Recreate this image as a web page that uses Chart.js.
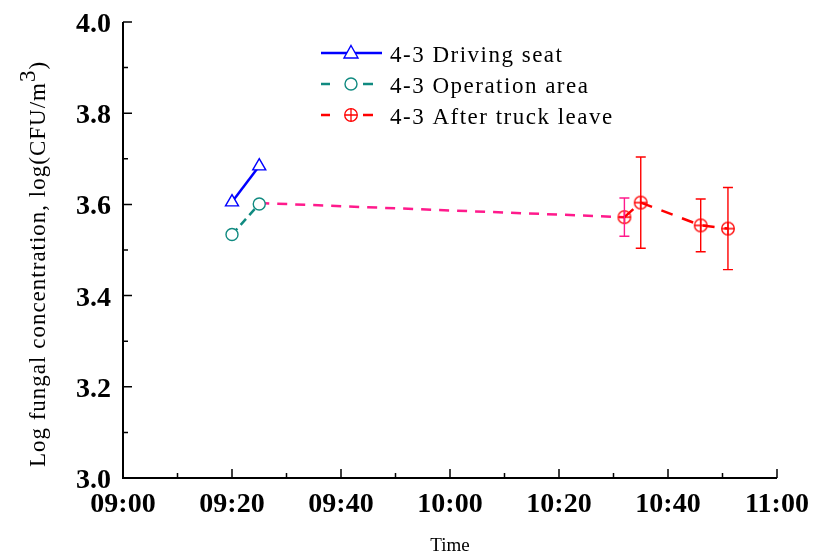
<!DOCTYPE html>
<html>
<head>
<meta charset="utf-8">
<script src="https://cdn.jsdelivr.net/npm/chart.js@4.4.0/dist/chart.umd.min.js"></script>
<style>
  html, body { margin: 0; padding: 0; background: #fff; }
  #wrap { width: 814px; height: 557px; }
</style>
</head>
<body>
<div id="wrap"><canvas id="fungalChart" width="814" height="557"></canvas></div>
<script>
// minutes after 09:00
const drivingTimes = [20, 25];
const drivingValues = [3.605, 3.684];
const operationTimes = [20, 25];
const operationValues = [3.534, 3.601];
const linkTimes = [25, 92];
const linkValues = [3.603, 3.572];
const afterTimes = [92, 95, 106, 111];
const afterValues = [3.572, 3.604, 3.554, 3.547];
const afterErrors = [0.042, 0.1, 0.058, 0.09];
const xTickLabels = ['09:00', '09:20', '09:40', '10:00', '10:20', '10:40', '11:00'];
const yTickLabels = ['3.0', '3.2', '3.4', '3.6', '3.8', '4.0'];
const seriesNames = ['4-3 Driving seat', '4-3 Operation area', '4-3 After truck leave'];

const SERIF = '"Liberation Serif", "Times New Roman", serif';
const BLUE = '#0000ff';
const TEAL = '#108a80';
const RED = '#ff0000';
const PINK = '#ff1a8c';

function toPoints(xs, ys) {
    return xs.map((x, i) => ({ x: x, y: ys[i] }));
}

// circle with a cross inside, used as marker
function crossCircle(color) {
    const c = document.createElement('canvas');
    c.width = 16; c.height = 16;
    const g = c.getContext('2d');
    g.strokeStyle = color;
    g.lineWidth = 1.3;
    g.beginPath();
    g.arc(8, 8, 6.3, 0, Math.PI * 2);
    g.moveTo(1.5, 8); g.lineTo(14.5, 8);
    g.moveTo(8, 1.5); g.lineTo(8, 14.5);
    g.stroke();
    return c;
}
const redMarker = crossCircle(RED);

// axes, ticks, error bars, legend, titles
const decorations = {
    id: 'decorations',
    afterDatasetsDraw(chart) {
        const ctx = chart.ctx;
        const xs = chart.scales.x, ys = chart.scales.y;
        ctx.save();
        ctx.lineWidth = 1.4;
        afterTimes.forEach((t, i) => {
            const px = xs.getPixelForValue(t);
            const top = ys.getPixelForValue(afterValues[i] + afterErrors[i]);
            const bot = ys.getPixelForValue(afterValues[i] - afterErrors[i]);
            ctx.strokeStyle = i === 0 ? PINK : RED;
            ctx.beginPath();
            ctx.moveTo(px, top); ctx.lineTo(px, bot);
            ctx.moveTo(px - 5, top); ctx.lineTo(px + 5, top);
            ctx.moveTo(px - 5, bot); ctx.lineTo(px + 5, bot);
            ctx.stroke();
        });
        ctx.restore();
    },
    afterDraw(chart) {
        const ctx = chart.ctx;
        const area = chart.chartArea;
        const xs = chart.scales.x, ys = chart.scales.y;
        ctx.save();
        ctx.strokeStyle = '#000';
        ctx.lineWidth = 2;
        ctx.beginPath();
        ctx.moveTo(area.left, area.top);
        ctx.lineTo(area.left, area.bottom);
        ctx.lineTo(area.right, area.bottom);
        ctx.stroke();

        ctx.lineWidth = 1.5;
        ctx.beginPath();
        for (let m = 0; m <= 120; m += 10) {
            const px = xs.getPixelForValue(m);
            const len = m % 20 === 0 ? 9 : 5;
            ctx.moveTo(px, area.bottom); ctx.lineTo(px, area.bottom - len);
        }
        for (let k = 0; k <= 10; k++) {
            const py = ys.getPixelForValue(3 + k / 10);
            const len = k % 2 === 0 ? 9 : 5;
            ctx.moveTo(area.left, py); ctx.lineTo(area.left + len, py);
        }
        ctx.stroke();

        // tick labels
        ctx.fillStyle = '#000';
        ctx.font = 'bold 28px ' + SERIF;
        ctx.textBaseline = 'alphabetic';
        ctx.textAlign = 'center';
        xTickLabels.forEach((lab, i) => {
            ctx.fillText(lab, xs.getPixelForValue(i * 20), 512);
        });
        ctx.textAlign = 'right';
        yTickLabels.forEach((lab, i) => {
            ctx.fillText(lab, area.left - 12, ys.getPixelForValue(3 + i * 0.2) + 10);
        });

        // axis titles
        ctx.font = '19px ' + SERIF;
        ctx.textAlign = 'center';
        ctx.fillText('Time', (area.left + area.right) / 2, 551);

        ctx.save();
        ctx.translate(45, 264);
        ctx.rotate(-Math.PI / 2);
        ctx.letterSpacing = '1px';
        const main = 'Log fungal concentration, log(CFU/m';
        ctx.font = '23px ' + SERIF;
        const w1 = ctx.measureText(main).width;
        const w3 = ctx.measureText('3').width;
        const w4 = ctx.measureText(')').width;
        let x0 = -(w1 + w3 + w4) / 2;
        ctx.textAlign = 'left';
        ctx.fillText(main, x0, 0);
        ctx.fillText('3', x0 + w1, -10);
        ctx.fillText(')', x0 + w1 + w3, 0);
        ctx.restore();

        // legend
        const rows = [53, 84, 115];
        const lx1 = 321, lx2 = 382, mx = 351;
        ctx.font = '23px ' + SERIF;
        ctx.letterSpacing = '1.5px';
        ctx.textAlign = 'left';
        ctx.textBaseline = 'alphabetic';
        rows.forEach((ry, i) => {
            ctx.lineWidth = 2.5;
            if (i === 0) {
                ctx.strokeStyle = BLUE;
                ctx.beginPath();
                ctx.moveTo(lx1, ry); ctx.lineTo(lx2, ry);
                ctx.stroke();
                ctx.fillStyle = '#fff';
                ctx.lineWidth = 1.4;
                ctx.beginPath();
                ctx.moveTo(mx, ry - 7.5);
                ctx.lineTo(mx + 7, ry + 5);
                ctx.lineTo(mx - 7, ry + 5);
                ctx.closePath();
                ctx.fill(); ctx.stroke();
            } else {
                const col = i === 1 ? TEAL : RED;
                ctx.strokeStyle = col;
                ctx.beginPath();
                ctx.moveTo(lx1, ry); ctx.lineTo(lx1 + 9, ry);
                ctx.moveTo(mx + 12, ry); ctx.lineTo(mx + 22, ry);
                ctx.stroke();
                if (i === 1) {
                    ctx.lineWidth = 1.4;
                    ctx.fillStyle = '#fff';
                    ctx.beginPath();
                    ctx.arc(mx, ry, 6, 0, Math.PI * 2);
                    ctx.fill(); ctx.stroke();
                } else {
                    ctx.drawImage(redMarker, mx - 8, ry - 8);
                }
            }
            ctx.fillStyle = '#000';
            ctx.fillText(seriesNames[i], 390, ry + 8.5);
        });
        ctx.restore();
    }
};

const ctx = document.getElementById('fungalChart').getContext('2d');
const fungalChart = new Chart(ctx, {
    type: 'line',
    data: {
        datasets: [
            {
                label: seriesNames[0],
                data: toPoints(drivingTimes, drivingValues),
                borderColor: BLUE,
                borderWidth: 2.5,
                pointStyle: 'triangle',
                pointRadius: 7.5,
                pointBorderWidth: 1.4,
                pointBackgroundColor: '#fff',
                pointBorderColor: BLUE
            },
            {
                label: seriesNames[1],
                data: toPoints(operationTimes, operationValues),
                borderColor: TEAL,
                borderWidth: 2.5,
                borderDash: [8, 5],
                pointStyle: 'circle',
                pointRadius: 6,
                pointBorderWidth: 1.4,
                pointBackgroundColor: '#fff',
                pointBorderColor: TEAL
            },
            {
                label: seriesNames[2],
                data: toPoints(afterTimes, afterValues),
                borderColor: RED,
                borderWidth: 2.5,
                borderDash: [12, 10],
                pointStyle: redMarker,
                pointRadius: 7
            },
            {
                label: 'link',
                data: toPoints(linkTimes, linkValues),
                borderColor: PINK,
                borderWidth: 2.5,
                borderDash: [10, 8],
                pointRadius: 0
            }
        ]
    },
    options: {
        responsive: false,
        animation: false,
        layout: { padding: { top: 22, right: 37, left: 0, bottom: 0 } },
        plugins: {
            legend: { display: false },
            tooltip: { enabled: false }
        },
        scales: {
            x: {
                type: 'linear',
                min: 0,
                max: 120,
                grid: { display: false, drawTicks: false },
                border: { display: false },
                ticks: { display: false },
                afterFit: function(scale) { scale.height = 79; }
            },
            y: {
                min: 3,
                max: 4,
                grid: { display: false, drawTicks: false },
                border: { display: false },
                ticks: { display: false },
                afterFit: function(scale) { scale.width = 123; }
            }
        }
    },
    plugins: [decorations]
});
</script>
</body>
</html>
